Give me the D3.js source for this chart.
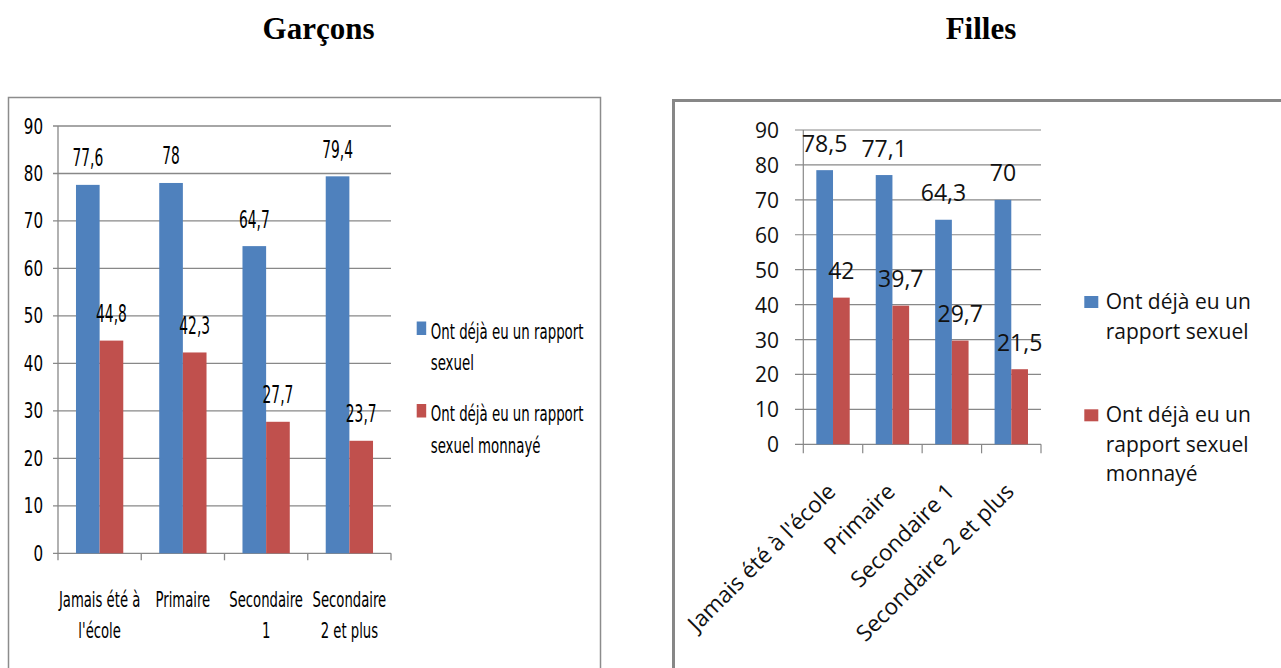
<!DOCTYPE html>
<html><head><meta charset="utf-8">
<script src="https://cdn.jsdelivr.net/npm/d3@7"></script>
<style>body{margin:0;background:#fff}svg{display:block}</style>
</head><body>
<script>
// ---- data ----
const titles = ["Garçons", "Filles"];
const categoriesG = [["Jamais été à", "l'école"], ["Primaire"], ["Secondaire", "1"], ["Secondaire", "2 et plus"]];
const categoriesF = ["Jamais été à l'école", "Primaire", "Secondaire 1", "Secondaire 2 et plus"];
const seriesNames = ["Ont déjà eu un rapport sexuel", "Ont déjà eu un rapport sexuel monnayé"];
const garconsRapport = [77.6, 78, 64.7, 79.4];
const garconsMonnaye = [44.8, 42.3, 27.7, 23.7];
const fillesRapport = [78.5, 77.1, 64.3, 70];
const fillesMonnaye = [42, 39.7, 29.7, 21.5];
const yTicks = [0, 10, 20, 30, 40, 50, 60, 70, 80, 90];
const legendLinesG = [["Ont déjà eu un rapport", "sexuel"], ["Ont déjà eu un rapport", "sexuel monnayé"]];
const legendLinesF = [["Ont déjà eu un", "rapport sexuel"], ["Ont déjà eu un", "rapport sexuel", "monnayé"]];
const colors = ["#4F81BD", "#C0504D"];

const fmt = v => String(v).replace(".", ",");

const svg = d3.select("body").append("svg").attr("width", 1281).attr("height", 668);

// titles
svg.append("text").attr("x", 318.5).attr("y", 39).attr("text-anchor", "middle")
  .attr("font-family", "Liberation Serif, Times New Roman, serif").attr("font-weight", "bold")
  .attr("font-size", 31).text(titles[0]);
svg.append("text").attr("x", 981).attr("y", 39).attr("text-anchor", "middle")
  .attr("font-family", "Liberation Serif, Times New Roman, serif").attr("font-weight", "bold")
  .attr("font-size", 31).text(titles[1]);

// frames
svg.append("rect").attr("x", 8.5).attr("y", 97.5).attr("width", 592).attr("height", 640)
  .attr("fill", "none").attr("stroke", "#8c8c8c").attr("stroke-width", 1.5);
svg.append("rect").attr("x", 673.5).attr("y", 100.5).attr("width", 700).attr("height", 640)
  .attr("fill", "none").attr("stroke", "#878787").attr("stroke-width", 3);

// ================= Garçons =================
(function () {
  const narrow = "Liberation Sans Narrow, DejaVu Sans Condensed, Arial Narrow, sans-serif";
  const g = svg.append("g");
  const x0 = d3.scaleBand().domain(d3.range(4)).range([58, 391]).paddingInner(0.432).paddingOuter(0.216);
  const x1 = d3.scaleBand().domain([0, 1]).range([0, x0.bandwidth()]);
  const y = d3.scaleLinear().domain([0, 90]).range([553.3, 126]);

  g.selectAll(".grid").data(yTicks).join("line")
    .attr("x1", 53).attr("x2", 391).attr("y1", d => y(d)).attr("y2", d => y(d))
    .attr("stroke", "#888").attr("stroke-width", 1.3);
  g.append("line").attr("x1", 58).attr("x2", 58).attr("y1", y(90)).attr("y2", y(0))
    .attr("stroke", "#888").attr("stroke-width", 1.3);
  const bounds = d3.range(5).map(i => 58 + i * x0.step());
  g.selectAll(".xt").data(bounds).join("line")
    .attr("x1", d => d).attr("x2", d => d).attr("y1", y(0)).attr("y2", y(0) + 7)
    .attr("stroke", "#888").attr("stroke-width", 1.3);
  g.selectAll(".yl").data(yTicks).join("text")
    .attr("transform", d => `translate(43,${y(d) + 7.5}) scale(0.8,1)`)
    .attr("text-anchor", "end").attr("font-family", narrow).attr("font-size", 21)
    .text(d => d);

  const data = d3.range(4).map(i => [garconsRapport[i], garconsMonnaye[i]]);
  const groups = g.selectAll(".grp").data(data).join("g")
    .attr("transform", (d, i) => `translate(${x0(i)},0)`);
  groups.selectAll("rect").data(d => d).join("rect")
    .attr("x", (d, j) => x1(j)).attr("width", x1.bandwidth())
    .attr("y", d => y(d)).attr("height", d => y(0) - y(d))
    .attr("fill", (d, j) => colors[j]);
  groups.selectAll("text").data(d => d).join("text")
    .attr("transform", (d, j) => `translate(${x1(j) + x1.bandwidth() / 2},${y(d) - 18.5}) scale(0.64,1)`)
    .attr("text-anchor", "middle").attr("font-family", narrow).attr("font-size", 24)
    .text(d => fmt(d));

  categoriesG.forEach((lines, i) => {
    lines.forEach((ln, k) => {
      g.append("text")
        .attr("transform", `translate(${x0(i) + x0.bandwidth() / 2},${607 + k * 31}) scale(0.7,1)`)
        .attr("text-anchor", "middle").attr("font-family", narrow).attr("font-size", 21)
        .text(ln);
    });
  });

  const legY = [321.5, 404];
  legendLinesG.forEach((lines, s) => {
    g.append("rect").attr("x", 416.7).attr("y", legY[s]).attr("width", 9.5).attr("height", 13.5)
      .attr("fill", colors[s]);
    lines.forEach((ln, k) => {
      g.append("text")
        .attr("transform", `translate(430.7,${legY[s] + 17 + k * 31.5}) scale(0.69,1)`)
        .attr("font-family", narrow).attr("font-size", 21.5).text(ln);
    });
  });
})();

// ================= Filles =================
(function () {
  const font = "Open Sans, Noto Sans, sans-serif";
  const g = svg.append("g");
  const x0 = d3.scaleBand().domain(d3.range(4)).range([803.3, 1041]).paddingInner(0.438).paddingOuter(0.219);
  const x1 = d3.scaleBand().domain([0, 1]).range([0, x0.bandwidth()]);
  const y = d3.scaleLinear().domain([0, 90]).range([444.3, 130]);

  g.selectAll(".grid").data(yTicks).join("line")
    .attr("x1", 795).attr("x2", 1041).attr("y1", d => y(d)).attr("y2", d => y(d))
    .attr("stroke", "#888").attr("stroke-width", 1.2);
  g.append("line").attr("x1", 803.3).attr("x2", 803.3).attr("y1", y(90)).attr("y2", y(0))
    .attr("stroke", "#888").attr("stroke-width", 1.2);
  const bounds = d3.range(5).map(i => 803.3 + i * x0.step());
  g.selectAll(".xt").data(bounds).join("line")
    .attr("x1", d => d).attr("x2", d => d).attr("y1", y(0)).attr("y2", y(0) + 9)
    .attr("stroke", "#888").attr("stroke-width", 1.2);
  g.selectAll(".yl").data(yTicks).join("text")
    .attr("x", 779).attr("y", d => y(d) + 8)
    .attr("text-anchor", "end").attr("font-family", font).attr("font-size", 21).attr("fill", "#111")
    .text(d => d);

  const data = d3.range(4).map(i => [fillesRapport[i], fillesMonnaye[i]]);
  const groups = g.selectAll(".grp").data(data).join("g")
    .attr("transform", (d, i) => `translate(${x0(i)},0)`);
  groups.selectAll("rect").data(d => d).join("rect")
    .attr("x", (d, j) => x1(j)).attr("width", x1.bandwidth())
    .attr("y", d => y(d)).attr("height", d => y(0) - y(d))
    .attr("fill", (d, j) => colors[j]);
  groups.selectAll("text").data(d => d).join("text")
    .attr("x", (d, j) => x1(j) + x1.bandwidth() / 2).attr("y", d => y(d) - 18.5)
    .attr("text-anchor", "middle").attr("font-family", font).attr("font-size", 23).attr("fill", "#111")
    .text(d => fmt(d));

  categoriesF.forEach((c, i) => {
    g.append("text")
      .attr("transform", `translate(${x0(i) + x0.bandwidth() / 2 + 4},493) rotate(-45)`)
      .attr("text-anchor", "end").attr("font-family", font).attr("font-size", 22.5).attr("fill", "#111")
      .text(c);
  });

  const legY = [296, 409.3];
  legendLinesF.forEach((lines, s) => {
    g.append("rect").attr("x", 1084.3).attr("y", legY[s]).attr("width", 14).attr("height", 12)
      .attr("fill", colors[s]);
    lines.forEach((ln, k) => {
      g.append("text").attr("x", 1105.7).attr("y", legY[s] + 13 + k * 29.5)
        .attr("font-family", font).attr("font-size", 21).attr("fill", "#111").text(ln);
    });
  });
})();
</script>
</body></html>
